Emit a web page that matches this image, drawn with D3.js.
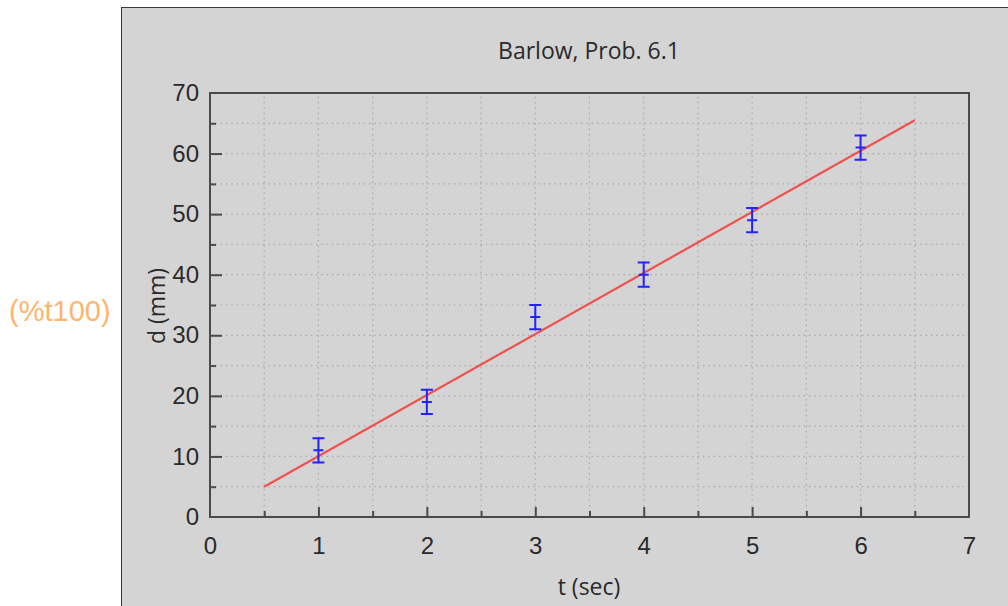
<!DOCTYPE html>
<html>
<head>
<meta charset="utf-8">
<script src="https://cdn.jsdelivr.net/npm/d3@7"></script>
<style>
  html, body { margin: 0; padding: 0; background: #fff; }
  svg { display: block; font-family: "Open Sans", "Noto Sans", sans-serif; }
</style>
</head>
<body>
<svg width="1008" height="606"></svg>
<script>
// Data
const times = [1, 2, 3, 4, 5, 6];        // t (sec)
const dists = [11, 19, 33, 40, 49, 61];  // d (mm)
const errs  = [2, 2, 2, 2, 2, 2];        // +/- error
const fitT  = [0.5, 6.5];                // fitted line end points
const fitD  = [5.0, 65.5];

const xTicks = [0, 1, 2, 3, 4, 5, 6, 7];
const yTicks = [0, 10, 20, 30, 40, 50, 60, 70];

let svg = d3.select('svg');

// outer gray panel
svg.append('rect')
  .attr('x', 121.5).attr('y', 7.5)
  .attr('width', 1000).attr('height', 700)
  .attr('fill', '#d4d4d4')
  .attr('stroke', '#3a3a3a').attr('stroke-width', 1);

// stray label on the left
svg.append('text')
  .attr('x', 9).attr('y', 311)
  .attr('dominant-baseline', 'central')
  .attr('font-family', '"Liberation Sans", Arial, sans-serif')
  .attr('font-size', 29)
  .attr('fill', '#ffb46e')
  .text('(%t100)');

const x = d3.scaleLinear().domain([0, 7]).range([210, 969]);
const y = d3.scaleLinear().domain([0, 70]).range([517, 93]);

// dotted grid
const grid = svg.append('g')
  .attr('stroke', '#a8a8a8')
  .attr('stroke-width', 1.2)
  .attr('stroke-dasharray', '1.5 3.8');

grid.selectAll('line.v')
  .data(d3.range(1, 14).map(i => i * 0.5))
  .enter().append('line')
  .attr('x1', d => x(d)).attr('x2', d => x(d))
  .attr('y1', y(0)).attr('y2', y(70));

grid.selectAll('line.h')
  .data(d3.range(1, 14).map(i => i * 5))
  .enter().append('line')
  .attr('y1', d => y(d)).attr('y2', d => y(d))
  .attr('x1', x(0)).attr('x2', x(7));

// frame
svg.append('rect')
  .attr('x', x(0)).attr('y', y(70))
  .attr('width', x(7) - x(0)).attr('height', y(0) - y(70))
  .attr('fill', 'none')
  .attr('stroke', '#4a4a4a').attr('stroke-width', 2);

function styleAxis(g)
{
  g.select('.domain').remove();
  g.selectAll('.tick line').attr('stroke', '#4a4a4a').attr('stroke-width', 2);
  g.selectAll('.tick text')
    .attr('fill', '#2a2a2a')
    .attr('font-size', 24);
}

// minor ticks
svg.append('g')
  .attr('transform', 'translate(' + x(0) + ',0)')
  .call(d3.axisLeft(y).tickValues(d3.range(5, 70, 10)).tickSize(-6).tickFormat(''))
  .call(styleAxis);
svg.append('g')
  .attr('transform', 'translate(0,' + y(0) + ')')
  .call(d3.axisBottom(x).tickValues(d3.range(0.5, 7, 1)).tickSize(-6).tickFormat(''))
  .call(styleAxis);

// major ticks
svg.append('g')
  .attr('transform', 'translate(' + x(0) + ',0)')
  .call(d3.axisLeft(y).tickValues(yTicks).tickSize(-12).tickPadding(11).tickFormat(d3.format('d')))
  .call(styleAxis)
  .call(g => g.selectAll('.tick').filter(d => d == 0 || d == 70).select('line').remove());
svg.append('g')
  .attr('transform', 'translate(0,' + y(0) + ')')
  .call(d3.axisBottom(x).tickValues(xTicks).tickSize(-10).tickPadding(20).tickFormat(d3.format('d')))
  .call(styleAxis)
  .call(g => g.selectAll('.tick').filter(d => d == 0 || d == 7).select('line').remove());

// title and axis labels
svg.append('text')
  .attr('x', 589).attr('y', 59)
  .attr('text-anchor', 'middle')
  .attr('font-size', 23).attr('fill', '#2a2a2a')
  .text('Barlow, Prob. 6.1');

svg.append('text')
  .attr('x', 589).attr('y', 595)
  .attr('text-anchor', 'middle')
  .attr('font-size', 23).attr('fill', '#2a2a2a')
  .text('t (sec)');

svg.append('text')
  .attr('transform', 'translate(165,306) rotate(-90)')
  .attr('text-anchor', 'middle')
  .attr('font-size', 23).attr('fill', '#2a2a2a')
  .text('d (mm)');

// fitted line
svg.append('path')
  .datum(d3.zip(fitT, fitD))
  .attr('d', d3.line().x(d => x(d[0])).y(d => y(d[1])))
  .attr('fill', 'none')
  .attr('stroke', '#f0504e')
  .attr('stroke-width', 2.2);

// error bars
const pts = d3.zip(times, dists, errs);
const eb = svg.append('g')
  .attr('stroke', '#2222ff')
  .attr('stroke-width', 2)
  .attr('fill', 'none');

eb.selectAll('path')
  .data(pts)
  .enter().append('path')
  .attr('d', d => {
    const cx = x(d[0]), top = y(d[1] + d[2]), bot = y(d[1] - d[2]), mid = y(d[1]);
    return 'M' + (cx - 6) + ',' + top + 'H' + (cx + 6)
      + 'M' + (cx - 6) + ',' + bot + 'H' + (cx + 6)
      + 'M' + cx + ',' + top + 'V' + bot
      + 'M' + (cx - 5) + ',' + mid + 'H' + (cx + 5);
  });
</script>
</body>
</html>
